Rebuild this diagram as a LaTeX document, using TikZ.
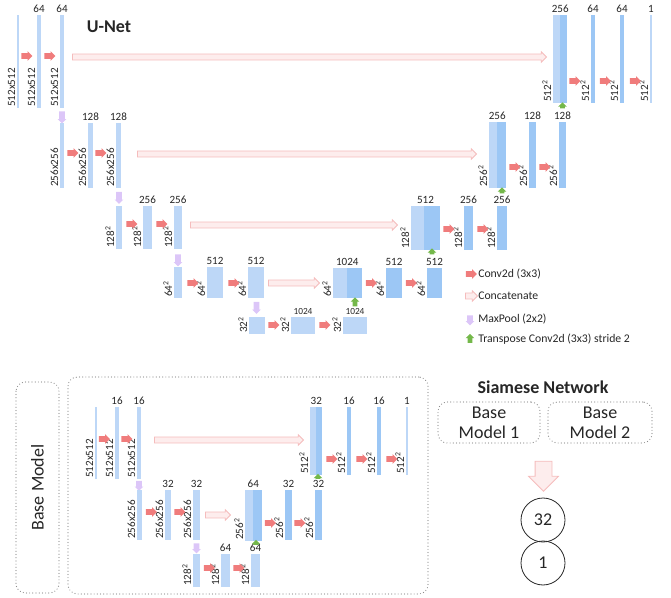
\documentclass[tikz,border=0pt]{standalone}
\usepackage{fontspec}
\setmainfont{Carlito}
\usepackage{xcolor}
\usetikzlibrary{arrows.meta,positioning,shapes.arrows,fit,calc}

\definecolor{barlight}{HTML}{BDD7F7}
\definecolor{bardark}{HTML}{9CC7F5}
\definecolor{convred}{HTML}{F07C7C}
\definecolor{catfill}{HTML}{FDEDED}
\definecolor{catline}{HTML}{F5BCBC}
\definecolor{poolpurple}{HTML}{DCC6F8}
\definecolor{upgreen}{HTML}{74B84A}
\definecolor{dotgray}{HTML}{8C8C8C}
\definecolor{inkgray}{HTML}{262626}

\begin{document}
\begin{tikzpicture}[x=0.75pt,y=-0.75pt,font=\fontsize{8.3}{10}\selectfont,text=inkgray,
  enc/.style={fill=barlight,inner sep=0pt},
  dec/.style={fill=bardark,inner sep=0pt},
  num/.style={anchor=south,inner sep=1.5pt},
  small/.style={anchor=south,inner sep=1.5pt,font=\fontsize{7}{8}\selectfont},
  dim/.style={rotate=90,anchor=south west,inner sep=1pt},
  conv/.style={single arrow,fill=convred,inner xsep=0pt,inner ysep=1.9pt,
    minimum height=8.3pt,single arrow head extend=1.5pt},
  cat/.style={single arrow,draw=catline,fill=catfill,line width=0.6pt,inner xsep=0pt,
    inner ysep=1.9pt,minimum height=#1*0.75pt,single arrow head extend=1.7pt},
  pool/.style={single arrow,fill=poolpurple,rotate=-90,inner xsep=0pt,inner ysep=1.9pt,
    minimum height=#1*0.75pt,single arrow head extend=1.1pt},
  pool/.default=12,
  up/.style={single arrow,fill=upgreen,rotate=90,inner xsep=0pt,inner ysep=1.5pt,
    minimum height=#1*0.75pt,single arrow head extend=1.5pt},
  up/.default=6,
  legtext/.style={right=6pt of #1.center,inner sep=0pt,font=\fontsize{8.8}{10}\selectfont},
  group/.style={draw=dotgray,line width=0.9pt,dash pattern=on 0pt off 2.4pt,line cap=round,
    rounded corners=7pt,inner sep=0pt},
  big/.style={font=\fontsize{13.5}{15}\selectfont},
  title/.style={font=\bfseries\fontsize{13.5}{16}\selectfont},
  circ/.style={circle,draw=inkgray,line width=0.6pt,minimum size=33pt,inner sep=0pt,
    font=\fontsize{13.5}{16}\selectfont}]
  \useasboundingbox (0,0) rectangle (671,598);

  % U-Net
  \node[title] (unet) at (109,27) {U-Net};

  % level 1
  \node[enc,fit={(17,15) (19,108)}] (u11) {};
  \node[enc,fit={(37,15) (41,108)}] (u12) {};
  \node[enc,fit={(60,15) (64,108)}] (u13) {};
  \node[dim] (u11d) at (u11.south west) {512x512};
  \node[dim] (u12d) at (u12.south west) {512x512};
  \node[dim] (u13d) at (u13.south west) {512x512};
  \node[num] (u12t) at (u12.north) {64};
  \node[num] (u13t) at (u13.north) {64};
  \node[conv] (c11) at (25.5,56) {};
  \node[conv] (c12) at (48.5,56) {};
  \node[cat=474] (k1) at (308,57) {};

  \node[enc,fit={(553,15) (560,103)}] (r1a) {};
  \node[dec,fit={(560,15) (567,103)}] (r1b) {};
  \node[dec,fit={(591,15) (595,103)}] (r12) {};
  \node[dec,fit={(620,15) (624,103)}] (r13) {};
  \node[enc,fit={(650,15) (652,103)}] (r14) {};
  \node[num] (r1t) at (r1a.north east) {256};
  \node[num] (r12t) at (r12.north) {64};
  \node[num] (r13t) at (r13.north) {64};
  \node[num] (r14t) at (r14.north) {1};
  \node[dim] (r1d) at (r1a.south west) {512\textsuperscript{2}};
  \node[dim] (r12d) at (r12.south west) {512\textsuperscript{2}};
  \node[dim] (r13d) at (r13.south west) {512\textsuperscript{2}};
  \node[dim] (r14d) at (r14.south west) {512\textsuperscript{2}};
  \node[conv] (c13) at (573.5,81) {};
  \node[conv] (c14) at (604,81) {};
  \node[conv] (c15) at (634,81) {};

  % level 2
  \node[pool] (p1) at (62,116) {};
  \node[enc,fit={(60,123) (64,188)}] (u21) {};
  \node[enc,fit={(88,123) (93,188)}] (u22) {};
  \node[enc,fit={(116,123) (121,188)}] (u23) {};
  \node[dim] (u21d) at (u21.south west) {256x256};
  \node[dim] (u22d) at (u22.south west) {256x256};
  \node[dim] (u23d) at (u23.south west) {256x256};
  \node[num] (u22t) at (u22.north) {128};
  \node[num] (u23t) at (u23.north) {128};
  \node[conv] (c21) at (71.5,153) {};
  \node[conv] (c22) at (99.5,153) {};
  \node[cat=339] (k2) at (305.5,154) {};

  \node[enc,fit={(489,122) (497,188)}] (r2a) {};
  \node[dec,fit={(497,122) (506,188)}] (r2b) {};
  \node[dec,fit={(529,122) (536,188)}] (r22) {};
  \node[dec,fit={(559,122) (566,188)}] (r23) {};
  \node[num] (r2t) at (r2a.north east) {256};
  \node[num] (r22t) at (r22.north) {128};
  \node[num] (r23t) at (r23.north) {128};
  \node[dim] (r2d) at (r2a.south west) {256\textsuperscript{2}};
  \node[dim] (r22d) at (r22.south west) {256\textsuperscript{2}};
  \node[dim] (r23d) at (r23.south west) {256\textsuperscript{2}};
  \node[conv] (c23) at (513.5,167) {};
  \node[conv] (c24) at (543.5,167) {};
  \node[up] (g1) at (562.5,106.5) {};

  % level 3
  \node[pool] (p2) at (119,196.5) {};
  \node[enc,fit={(116,206) (122,249)}] (u31) {};
  \node[enc,fit={(143,206) (152,249)}] (u32) {};
  \node[enc,fit={(174,206) (182,249)}] (u33) {};
  \node[dim] (u31d) at (u31.south west) {128\textsuperscript{2}};
  \node[dim] (u32d) at (u32.south west) {128\textsuperscript{2}};
  \node[dim] (u33d) at (u33.south west) {128\textsuperscript{2}};
  \node[num] (u32t) at (u32.north) {256};
  \node[num] (u33t) at (u33.north) {256};
  \node[conv] (c31) at (130.5,224) {};
  \node[conv] (c32) at (160.5,224) {};
  \node[cat=207] (k3) at (292.5,225) {};

  \node[enc,fit={(411,206) (424,250)}] (r3a) {};
  \node[dec,fit={(424,206) (440,250)}] (r3b) {};
  \node[dec,fit={(464,206) (473,250)}] (r32) {};
  \node[dec,fit={(497,206) (507,250)}] (r33) {};
  \node[num] (r3t) at ($(r3a.north west)!0.5!(r3b.north east)$) {512};
  \node[num] (r32t) at (r32.north) {256};
  \node[num] (r33t) at (r33.north) {256};
  \node[dim] (r3d) at (r3a.south west) {128\textsuperscript{2}};
  \node[dim] (r32d) at (r32.south west) {128\textsuperscript{2}};
  \node[dim] (r33d) at (r33.south west) {128\textsuperscript{2}};
  \node[conv] (c33) at (447.5,229) {};
  \node[conv] (c34) at (481.5,229) {};
  \node[up] (g2) at (502,191.5) {};

  % level 4
  \node[pool] (p3) at (178,259) {};
  \node[enc,fit={(174,267) (182,298)}] (u41) {};
  \node[enc,fit={(207,267) (223,298)}] (u42) {};
  \node[enc,fit={(248,267) (264,298)}] (u43) {};
  \node[dim] (u41d) at (u41.south west) {64\textsuperscript{2}};
  \node[dim] (u42d) at (u42.south west) {64\textsuperscript{2}};
  \node[dim] (u43d) at (u43.south west) {64\textsuperscript{2}};
  \node[num] (u42t) at (u42.north) {512};
  \node[num] (u43t) at (u43.north) {512};
  \node[conv] (c41) at (191.5,283) {};
  \node[conv] (c42) at (232.5,283) {};
  \node[cat=51] (k4) at (292.5,283) {};

  \node[enc,fit={(333,268) (347,298)}] (r4a) {};
  \node[dec,fit={(347,268) (362,298)}] (r4b) {};
  \node[dec,fit={(386,268) (402,298)}] (r42) {};
  \node[dec,fit={(427,268) (442,298)}] (r43) {};
  \node[num] (r4t) at (r4a.north east) {1024};
  \node[num] (r42t) at (r42.north) {512};
  \node[num] (r43t) at (r43.north) {512};
  \node[dim] (r4d) at (r4a.south west) {64\textsuperscript{2}};
  \node[dim] (r42d) at (r42.south west) {64\textsuperscript{2}};
  \node[dim] (r43d) at (r43.south west) {64\textsuperscript{2}};
  \node[conv] (c43) at (370,283) {};
  \node[conv] (c44) at (410,283) {};
  \node[up] (g3) at (432,252.5) {};

  % level 5
  \node[pool] (p4) at (256.5,306.5) {};
  \node[enc,fit={(249,317) (265,334)}] (u51) {};
  \node[enc,fit={(291,317) (315,334)}] (u52) {};
  \node[enc,fit={(343,317) (367,334)}] (u53) {};
  \node[dim] (u51d) at (u51.south west) {32\textsuperscript{2}};
  \node[dim] (u52d) at (u52.south west) {32\textsuperscript{2}};
  \node[dim] (u53d) at (u53.south west) {32\textsuperscript{2}};
  \node[small] (u52t) at (u52.north) {1024};
  \node[small] (u53t) at (u53.north) {1024};
  \node[conv] (c51) at (272.5,325) {};
  \node[conv] (c52) at (323.5,325) {};
  \node[up=9] (g4) at (355,303) {};

  % legend
  \node[conv] (lg1) at (470,274) {};
  \node[legtext=lg1] (lt1) {Conv2d (3x3)};
  \node[cat=12] (lg2) at (470,296) {};
  \node[legtext=lg2] (lt2) {Concatenate};
  \node[pool=10] (lg3) at (470,319) {};
  \node[legtext=lg3] (lt3) {MaxPool (2x2)};
  \node[up=9] (lg4) at (470,339.5) {};
  \node[legtext=lg4] (lt4) {Transpose Conv2d (3x3) stride 2};

  % Base Model
  \node[group,big,rotate=90,minimum width=158.25pt,minimum height=32.25pt] (bmlab) at (37.5,487.5) {Base Model};
  \node[group,minimum width=270pt,minimum height=162.75pt] (bmbox) at (248,485.5) {};

  \node[enc,fit={(95,407) (97,479)}] (b11) {};
  \node[enc,fit={(115,407) (119,479)}] (b12) {};
  \node[enc,fit={(137,407) (141,479)}] (b13) {};
  \node[dim] (b11d) at (b11.south west) {512x512};
  \node[dim] (b12d) at (b12.south west) {512x512};
  \node[dim] (b13d) at (b13.south west) {512x512};
  \node[num] (b12t) at (b12.north) {16};
  \node[num] (b13t) at (b13.north) {16};
  \node[conv] (cb11) at (103,439) {};
  \node[conv] (cb12) at (125.5,439) {};
  \node[cat=149] (kb1) at (227.5,440) {};

  \node[enc,fit={(310,407) (316,475)}] (br1a) {};
  \node[dec,fit={(316,407) (322,475)}] (br1b) {};
  \node[dec,fit={(347,407) (351,475)}] (br12) {};
  \node[dec,fit={(377,407) (381,475)}] (br13) {};
  \node[enc,fit={(406,407) (408,475)}] (br14) {};
  \node[num] (br1t) at (br1a.north east) {32};
  \node[num] (br12t) at (br12.north) {16};
  \node[num] (br13t) at (br13.north) {16};
  \node[num] (br14t) at (br14.north) {1};
  \node[dim] (br1d) at (br1a.south west) {512\textsuperscript{2}};
  \node[dim] (br12d) at (br12.south west) {512\textsuperscript{2}};
  \node[dim] (br13d) at (br13.south west) {512\textsuperscript{2}};
  \node[dim] (br14d) at (br14.south west) {512\textsuperscript{2}};
  \node[conv] (cb13) at (330.5,459) {};
  \node[conv] (cb14) at (360.5,459) {};
  \node[conv] (cb15) at (390.5,459) {};

  \node[pool=10] (pb1) at (139,484.5) {};
  \node[enc,fit={(137,490) (142,540)}] (b21) {};
  \node[enc,fit={(165,490) (171,540)}] (b22) {};
  \node[enc,fit={(193,490) (200,540)}] (b23) {};
  \node[dim] (b21d) at (b21.south west) {256x256};
  \node[dim] (b22d) at (b22.south west) {256x256};
  \node[dim] (b23d) at (b23.south west) {256x256};
  \node[num] (b22t) at (b22.north) {32};
  \node[num] (b23t) at (b23.north) {32};
  \node[conv] (cb21) at (150,512) {};
  \node[conv] (cb22) at (178.5,512) {};
  \node[cat=25] (kb2) at (216.5,515) {};

  \node[enc,fit={(245,490) (253,541)}] (br2a) {};
  \node[dec,fit={(253,490) (262,541)}] (br2b) {};
  \node[dec,fit={(285,490) (292,540)}] (br22) {};
  \node[dec,fit={(315,490) (322,540)}] (br23) {};
  \node[num] (br2t) at (br2a.north east) {64};
  \node[num] (br22t) at (br22.north) {32};
  \node[num] (br23t) at (br23.north) {32};
  \node[dim] (br2d) at (br2a.south west) {256\textsuperscript{2}};
  \node[dim] (br22d) at (br22.south west) {256\textsuperscript{2}};
  \node[dim] (br23d) at (br23.south west) {256\textsuperscript{2}};
  \node[conv] (cb23) at (269,523) {};
  \node[conv] (cb24) at (298.5,523) {};
  \node[up=5] (gb1) at (318,477.5) {};

  \node[pool=10] (pb2) at (196.5,547) {};
  \node[enc,fit={(193,554) (200,587)}] (b31) {};
  \node[enc,fit={(221,554) (230,587)}] (b32) {};
  \node[enc,fit={(251,554) (260,587)}] (b33) {};
  \node[dim] (b31d) at (b31.south west) {128\textsuperscript{2}};
  \node[dim] (b32d) at (b32.south west) {128\textsuperscript{2}};
  \node[dim] (b33d) at (b33.south west) {128\textsuperscript{2}};
  \node[num] (b32t) at (b32.north) {64};
  \node[num] (b33t) at (b33.north) {64};
  \node[conv] (cb31) at (208,568) {};
  \node[conv] (cb32) at (237.5,568) {};
  \node[up=5] (gb2) at (256,543.5) {};

  % Siamese Network
  \node[title] (siam) at (543,387) {Siamese Network};
  \node[group,big,align=center,minimum width=76.5pt,minimum height=30.75pt] (sm1) at (489,422.5) {Base\\Model 1};
  \node[group,big,align=center,minimum width=78pt,minimum height=30.75pt] (sm2) at (600,422.5) {Base\\Model 2};
  \node[single arrow,draw=catline,fill=catfill,line width=0.6pt,rotate=-90,inner xsep=0pt,
    inner ysep=6pt,minimum height=22.5pt,single arrow head extend=4.9pt] (sarr) at (543.5,472) {};
  \node[circ] (n32) at (543,520) {32};
  \node[circ] (n1) at (543,563) {1};
\end{tikzpicture}
\end{document}
